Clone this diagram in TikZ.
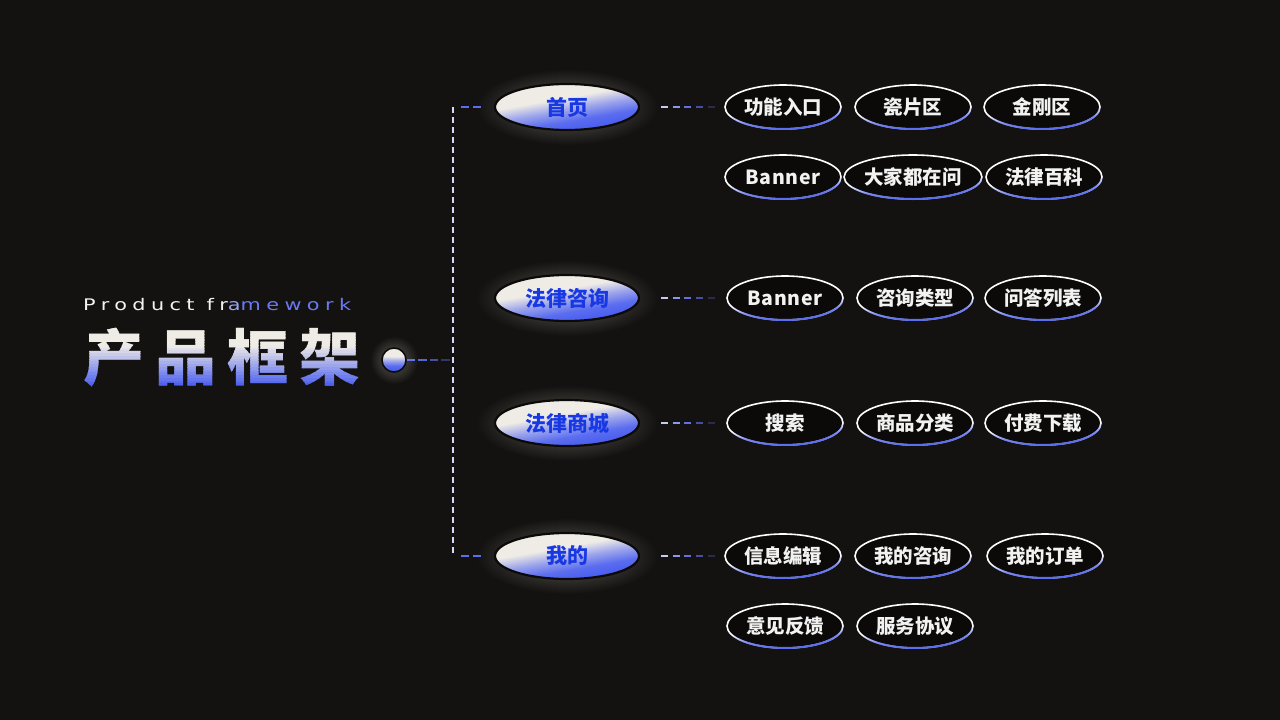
\documentclass[tikz,border=0pt]{standalone}
\usepackage{fontspec}
\setmainfont{Noto Sans CJK SC}
\newfontfamily\latinwide[LetterSpace=26]{DejaVu Sans}
\usetikzlibrary{shapes.geometric,fadings,calc}
\definecolor{bgc}{HTML}{141210}
\definecolor{cream}{HTML}{EFECE6}
\definecolor{cblue}{HTML}{4A5EF0}
\definecolor{lineblue}{HTML}{5C6EF0}
\definecolor{lav}{HTML}{D4DAF8}
\definecolor{textblue}{HTML}{1838E4}
\definecolor{haloc}{HTML}{33312E}
\definecolor{inkc}{HTML}{0B0A09}
\definecolor{wtext}{HTML}{F2F2F2}
\definecolor{rc1}{HTML}{C5CCF2}
\definecolor{rc2}{HTML}{8C98EC}
\definecolor{rc3}{HTML}{6270E0}
\definecolor{rc4}{HTML}{46509E}
\definecolor{rc5}{HTML}{2A2D4A}
\definecolor{dc1}{HTML}{6374F0}
\definecolor{dc2}{HTML}{5566D8}
\definecolor{dc3}{HTML}{4550A8}
\definecolor{dc4}{HTML}{30386A}

\pgfdeclareradialshading{haloshade}{\pgfpointorigin}{color(0bp)=(pgftransparent!0); color(15bp)=(pgftransparent!0); color(25bp)=(pgftransparent!100); color(50bp)=(pgftransparent!100)}
\pgfdeclarefading{halo}{\pgfuseshading{haloshade}}
\pgfdeclareverticalshading{bfadeshade}{100bp}{color(0bp)=(pgftransparent!0); color(28bp)=(pgftransparent!0); color(36bp)=(pgftransparent!20); color(46bp)=(pgftransparent!100); color(100bp)=(pgftransparent!100)}
\pgfdeclarefading{bfade}{\pgfuseshading{bfadeshade}}
\pgfdeclareverticalshading{mainsh}{100bp}{color(0bp)=(cblue); color(30bp)=(cblue); color(38bp)=(cblue!90!cream); color(48bp)=(cblue!50!cream); color(58bp)=(cream); color(100bp)=(cream)}

\newcommand\fadedash[3]{% from, to, colour list
  \foreach \c [count=\i] in {#3} {
    \pgfmathsetmacro\pa{(\i-1)/5}
    \pgfmathsetmacro\pb{(\i-1+0.6)/5}
    \draw[line width=2pt, \c] ($(#1)!\pa!(#2)$) -- ($(#1)!\pb!(#2)$);
  }}
\newcommand\dotdash[3]{% from, to, colour list (4 dashes)
  \foreach \c [count=\i] in {#3} {
    \pgfmathsetmacro\pa{(\i-1)/4}
    \pgfmathsetmacro\pb{(\i-1+0.72)/4}
    \draw[line width=2pt, \c] ($(#1)!\pa!(#2)$) -- ($(#1)!\pb!(#2)$);
  }}

\tikzset{
  mainbox/.style={ellipse, minimum width=144pt, minimum height=46pt, inner sep=0pt,
    draw=inkc, line width=2.2pt, shade, shading=mainsh, shading angle=10, text=textblue,
    font=\fontsize{21}{21}\selectfont\bfseries},
  subbox/.style={ellipse, minimum width=116pt, minimum height=44pt, inner sep=0pt,
    draw=white, fill=inkc, line width=1.6pt, text=wtext,
    font=\fontsize{19.5}{19.5}\selectfont\bfseries,
    postaction={draw=lineblue, line width=2pt, path fading=bfade, fading angle=12}},
  halobox/.style={ellipse, minimum width=182pt, minimum height=76pt, inner sep=0pt,
    fill=haloc, path fading=halo},
  vdash/.style={line width=2pt, lav, dash pattern=on 6pt off 4pt},
  stub/.style={line width=2pt, lineblue, dash pattern=on 8pt off 4pt},
  titlestyle/.style={inner sep=0pt, font=\fontsize{61}{61}\selectfont\bfseries}
}
\newcommand\latbanner{{\addfontfeature{LetterSpace=4}Banner}}

\begin{document}
\begin{tikzpicture}[x=1pt,y=-1pt]
\useasboundingbox (0,0) rectangle (1280,720);
\fill[bgc] (0,0) rectangle (1280,720);

% title
\node[anchor=west, inner sep=0pt, font=\latinwide\fontsize{16}{16}\selectfont] (sub) at (83,305)
  {\scalebox{1.3}[1]{{\color{wtext}Product fr}{\color{lav!50!lineblue}a}{\color{lineblue!92!white}mework}}};
\coordinate (tc) at (222,358);
\foreach \i in {0,...,23} {
  \pgfmathsetmacro\ya{326+\i*2.75}
  \pgfmathsetmacro\yb{\ya+3.0}
  \pgfmathsetmacro\t{max(0,min(100,(\ya+1.4-346)/(386-346)*100))}
  \begin{scope}
    \clip (60,\ya) rectangle (380,\yb);
    \node[titlestyle, text=cblue!\t!cream] (title\i) at (tc) {产\hspace{11pt}品\hspace{11pt}框\hspace{11pt}架};
  \end{scope}
}

% dot
\node[halobox, minimum width=48pt, minimum height=48pt] at (394,360) {};
\node[circle, minimum size=24pt, inner sep=0pt, draw=inkc, line width=1.5pt,
  shade, shading=mainsh] (dot) at (394,360) {};

% halos
\foreach \y in {107,298,423,556} \node[halobox] at (567,\y) {};

% main nodes
\node[mainbox] (m1) at (567,107) {首页};
\node[mainbox] (m2) at (567,298) {法律咨询};
\node[mainbox] (m3) at (567,423) {法律商城};
\node[mainbox] (m4) at (567,556) {我的};

% spine
\coordinate (top) at (453,107);
\coordinate (bot) at (453,556);
\coordinate (mid) at (453,360);
\draw[vdash] (top) -- (bot);
\draw[stub] ($(top)+(8,0)$) -- ($(m1.west)+(-12,0)$);
\draw[stub] ($(bot)+(8,0)$) -- ($(m4.west)+(-12,0)$);
\dotdash{dot.east}{mid}{dc1,dc2,dc3,dc4}

% sub nodes
\node[subbox] (a1) at (783,107) {功能入口};
\node[subbox] (a2) at (913,107) {瓷片区};
\node[subbox] (a3) at (1042,107) {金刚区};
\node[subbox] (a4) at (783,177) {\latbanner};
\node[subbox] (a5) at (913,177) {大家都在问};
\node[subbox] (a6) at (1044,177) {法律百科};

\node[subbox] (b1) at (785,298) {\latbanner};
\node[subbox] (b2) at (915,298) {咨询类型};
\node[subbox] (b3) at (1043,298) {问答列表};

\node[subbox] (c1) at (785,423) {搜索};
\node[subbox] (c2) at (915,423) {商品分类};
\node[subbox] (c3) at (1043,423) {付费下载};

\node[subbox] (d1) at (783,556) {信息编辑};
\node[subbox] (d2) at (913,556) {我的咨询};
\node[subbox] (d3) at (1045,556) {我的订单};
\node[subbox] (d4) at (785,626) {意见反馈};
\node[subbox] (d5) at (915,626) {服务协议};

% connectors main -> sub
\coordinate (s1) at ($(m1.east)+(21,0)$); \coordinate (e1) at ($(a1.west)+(-5,0)$);
\coordinate (s2) at ($(m2.east)+(21,0)$); \coordinate (e2) at ($(b1.west)+(-7,0)$);
\coordinate (s3) at ($(m3.east)+(21,0)$); \coordinate (e3) at ($(c1.west)+(-7,0)$);
\coordinate (s4) at ($(m4.east)+(21,0)$); \coordinate (e4) at ($(d1.west)+(-5,0)$);
\fadedash{s1}{e1}{rc1,rc2,rc3,rc4,rc5}
\fadedash{s2}{e2}{rc1,rc2,rc3,rc4,rc5}
\fadedash{s3}{e3}{rc1,rc2,rc3,rc4,rc5}
\fadedash{s4}{e4}{rc1,rc2,rc3,rc4,rc5}
\end{tikzpicture}
\end{document}
